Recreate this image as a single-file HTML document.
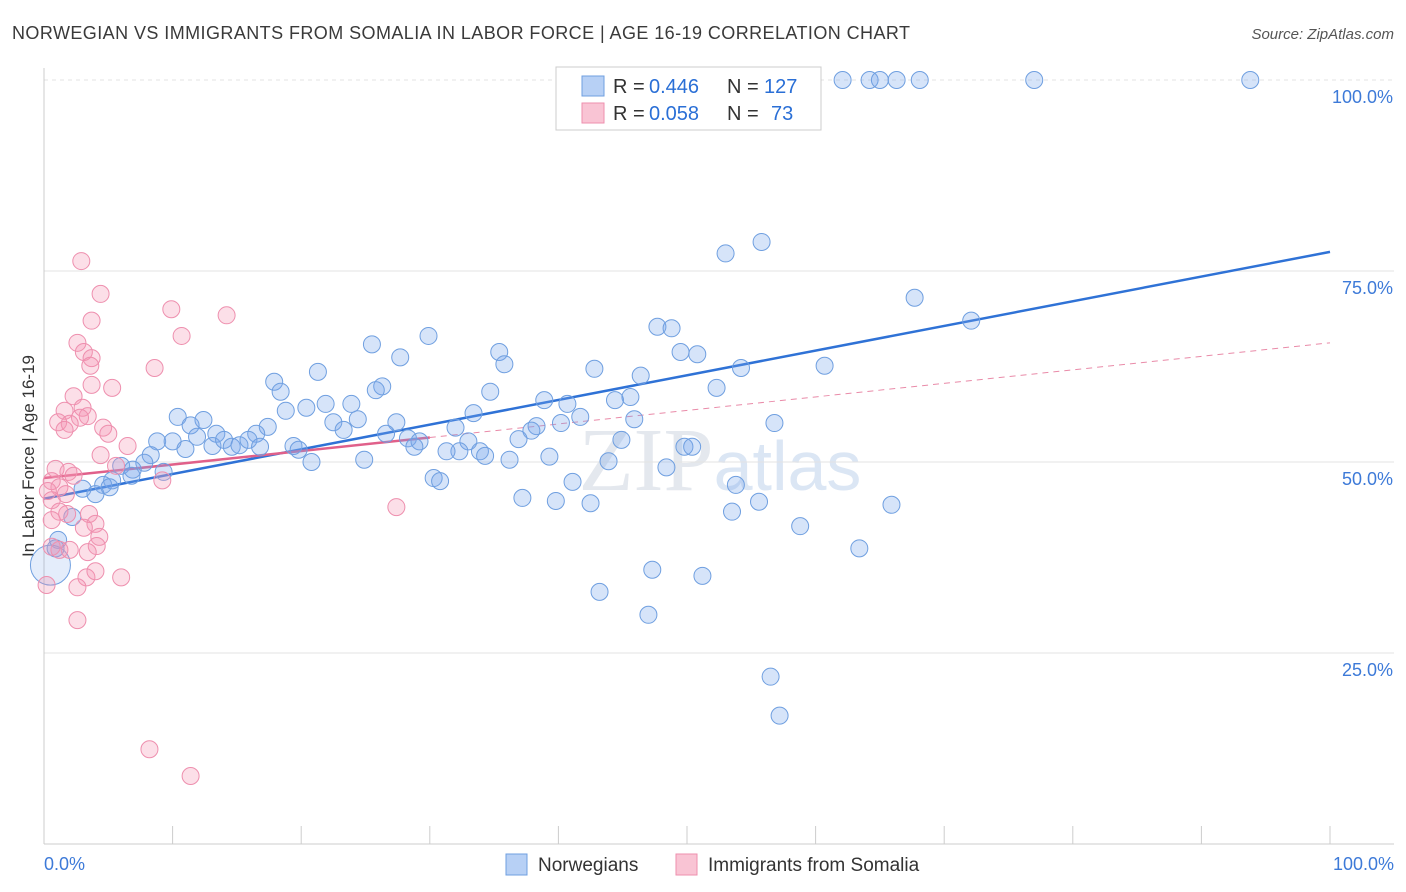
<!DOCTYPE html>
<html><head><meta charset="utf-8"><style>
body{margin:0;background:#fff;font-family:"Liberation Sans",sans-serif;}
#wrap{position:relative;width:1406px;height:892px;overflow:hidden;}
</style></head><body>
<div id="wrap">
<svg id="svg" width="1406" height="892" xmlns="http://www.w3.org/2000/svg" font-family="Liberation Sans, sans-serif">
<text x="12" y="39" font-size="18" fill="#3a3a3a" textLength="898" lengthAdjust="spacing">NORWEGIAN VS IMMIGRANTS FROM SOMALIA IN LABOR FORCE | AGE 16-19 CORRELATION CHART</text>
<text x="1394" y="39" font-size="15" fill="#555" font-style="italic" text-anchor="end">Source: ZipAtlas.com</text>
<text x="34" y="456" font-size="17" fill="#333" text-anchor="middle" transform="rotate(-90 34 456)">In Labor Force | Age 16-19</text>
<text x="720" y="490" font-size="90" fill="#e4e8ee" text-anchor="middle" font-family="Liberation Serif, serif">ZIP<tspan fill="#dbe6f4" font-family="Liberation Sans, sans-serif" font-size="70">atlas</tspan></text>
<g id="grid"></g><g id="axes"></g><g id="trend"></g><g id="pts"></g>
<g>
<rect x="556" y="67" width="265" height="63" fill="#fff" stroke="#ccc"/>
<rect x="582" y="76" width="22" height="20" fill="#b7d0f5" stroke="#6f9fe0"/>
<rect x="582" y="103" width="22" height="20" fill="#f9c4d4" stroke="#ee8fae"/>
<text x="613" y="93" font-size="20" fill="#333">R =</text>
<text x="649" y="93" font-size="20" fill="#2a6fd6">0.446</text>
<text x="727" y="93" font-size="20" fill="#333">N =</text>
<text x="764" y="93" font-size="20" fill="#2a6fd6">127</text>
<text x="613" y="120" font-size="20" fill="#333">R =</text>
<text x="649" y="120" font-size="20" fill="#2a6fd6">0.058</text>
<text x="727" y="120" font-size="20" fill="#333">N =</text>
<text x="771" y="120" font-size="20" fill="#2a6fd6">73</text>
</g>
<g>
<rect x="506" y="854" width="21" height="21" fill="#b7d0f5" stroke="#6f9fe0"/>
<text x="538" y="871" font-size="19" fill="#333">Norwegians</text>
<rect x="676" y="854" width="21" height="21" fill="#f9c4d4" stroke="#ee8fae"/>
<text x="708" y="871" font-size="19" fill="#333">Immigrants from Somalia</text>
</g>
</svg>
</div>
<script>
const yTicks=[25,50,75,100];
const yTickLabels=["25.0%","50.0%","75.0%","100.0%"];
const xTicks=[0,10,20,30,40,50,60,70,80,90,100];
const blueX=[62.1,64.2,65.0,66.3,68.1,77.0,93.8,55.8,53.0,67.7,72.1,29.9,25.5,27.7,35.4,35.8,47.7,48.8,49.5,50.8,54.2,60.7,17.9,21.3,18.4,42.8,46.4,45.6,34.7,26.3,25.8,52.3,44.4,38.9,40.7,18.8,20.4,21.9,23.9,10.4,12.4,11.4,13.4,17.4,16.5,22.5,24.4,27.4,33.4,41.7,45.9,56.8,38.3,40.2,37.9,32.0,23.3,26.6,28.3,29.2,28.8,33.0,33.9,36.9,32.3,31.3,44.9,49.8,50.4,8.8,10.0,11.0,11.9,13.1,14.0,14.6,15.2,15.9,16.8,19.4,19.8,20.8,24.9,34.3,36.2,39.3,43.9,48.4,8.3,7.8,6.0,6.9,6.8,9.3,5.3,4.6,4.0,3.0,5.1,30.3,30.8,41.1,37.2,39.8,42.5,53.8,55.6,53.5,65.9,58.8,63.4,2.2,1.1,0.9,43.2,47.3,51.2,47.0,56.5,57.2,0.5];
const blueY=[100,100,100,100,100,100,100,78.8,77.3,71.5,68.5,66.5,65.4,63.7,64.4,62.8,67.7,67.5,64.4,64.1,62.3,62.6,60.5,61.8,59.2,62.2,61.3,58.5,59.2,59.9,59.4,59.7,58.1,58.1,57.6,56.7,57.1,57.6,57.6,55.9,55.5,54.8,53.7,54.6,53.7,55.2,55.6,55.2,56.4,55.9,55.6,55.1,54.7,55.1,54.1,54.5,54.2,53.7,53.1,52.7,52.0,52.7,51.4,53.0,51.4,51.4,52.9,52.0,52.0,52.7,52.7,51.7,53.3,52.1,52.9,52.0,52.2,52.9,52.0,52.1,51.6,50.0,50.3,50.8,50.3,50.7,50.1,49.3,50.9,49.9,49.5,49.0,48.2,48.7,47.6,47.0,45.8,46.5,46.7,47.9,47.5,47.4,45.3,44.9,44.6,47.0,44.8,43.5,44.4,41.6,38.7,42.8,39.8,38.7,33.0,35.9,35.1,30.0,21.9,16.8,36.5];
const pinkX=[2.9,4.4,9.9,14.2,3.7,10.7,2.6,3.1,3.7,3.6,8.6,3.7,5.3,2.3,1.6,3.0,3.4,2.8,1.1,2.0,4.6,5.0,1.6,6.5,4.4,5.6,0.9,1.9,2.3,9.2,0.6,1.2,0.3,1.7,0.6,3.5,1.8,1.2,0.6,4.0,3.1,4.3,4.1,1.2,2.0,0.6,3.4,6.0,3.3,4.0,2.6,0.2,2.6,8.2,11.4,27.4];
const pinkY=[76.3,72.0,70.0,69.2,68.5,66.5,65.6,64.4,63.6,62.6,62.3,60.1,59.7,58.6,56.7,57.1,56.0,55.8,55.2,55.0,54.5,53.7,54.2,52.1,50.9,49.5,49.1,48.7,48.2,47.6,47.5,46.7,46.2,45.8,45.0,43.2,43.2,43.5,42.4,41.9,41.4,40.2,39.0,38.5,38.5,38.9,38.2,34.9,34.9,35.7,33.6,33.9,29.3,12.4,8.9,44.1];
const blueTrend=[45.2,77.5];
const pinkTrend=[47.9,65.6];
const NS="http://www.w3.org/2000/svg";
const X=v=>44+v*12.86, Y=v=>844-v*7.64;
function mk(tag,attrs,parent){const e=document.createElementNS(NS,tag);for(const k in attrs)e.setAttribute(k,attrs[k]);document.getElementById(parent).appendChild(e);return e;}
yTicks.forEach((t,i)=>{
 const l=mk('line',{x1:44,x2:1394,y1:Y(t),y2:Y(t),stroke:'#e3e3e3','stroke-dasharray':t==100?'4 4':'none'},'grid');
 
 
 const tx=mk('text',{x:1393,y:Y(t)+23,'font-size':18,fill:'#3d7ad8','text-anchor':'end'},'grid');tx.textContent=yTickLabels[i];
 
 
});
const ax=mk('line',{x1:44,x2:1394,y1:844,y2:844,stroke:'#ccc'},'axes');


const ay=mk('line',{x1:44,x2:44,y1:68,y2:844,stroke:'#ccc'},'axes');


xTicks.forEach(t=>{const l=mk('line',{x1:X(t),x2:X(t),y1:826,y2:844,stroke:'#ccc'},'axes');
 
 });
const xl0=mk('text',{x:44,y:870,'font-size':18,fill:'#3d7ad8'},'axes');xl0.textContent='0.0%';


const xl1=mk('text',{x:1394,y:870,'font-size':18,fill:'#3d7ad8','text-anchor':'end'},'axes');xl1.textContent='100.0%';


blueX.forEach((v,i)=>{const big=i==blueX.length-1;const c=mk('circle',{cx:X(v),cy:Y(blueY[i]),r:big?20:8.5,fill:big?'rgba(120,165,235,0.2)':'rgba(120,165,235,0.3)',stroke:'#6f9fe0','stroke-width':1},'pts');
 
 });
pinkX.forEach((v,i)=>{const c=mk('circle',{cx:X(v),cy:Y(pinkY[i]),r:8.5,fill:'rgba(244,150,180,0.3)',stroke:'#ee8fae','stroke-width':1},'pts');
 
 });
const bt=mk('line',{x1:X(0),y1:Y(blueTrend[0]),x2:X(100),y2:Y(blueTrend[1]),stroke:'#2f72d6','stroke-width':2.5},'trend');


const pAt=x=>pinkTrend[0]+(pinkTrend[1]-pinkTrend[0])*x/100;
const pd=mk('line',{x1:X(30),y1:Y(pAt(30)),x2:X(100),y2:Y(pAt(100)),stroke:'#e98aa8','stroke-width':1,'stroke-dasharray':'6 5'},'trend');


const ps=mk('line',{x1:X(0),y1:Y(pAt(0)),x2:X(30),y2:Y(pAt(30)),stroke:'#e0608a','stroke-width':2.5},'trend');


</script>
</body></html>
